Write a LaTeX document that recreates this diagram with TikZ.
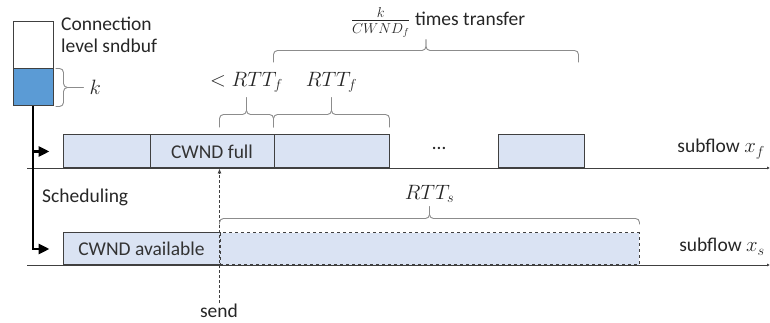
\documentclass[tikz,border=0pt]{standalone}
\usepackage{fontspec}
\setmainfont{Carlito}
\usepackage{amsmath}
\usetikzlibrary{positioning,arrows.meta,calc}
\definecolor{slot}{HTML}{DAE3F3}
\definecolor{slotline}{HTML}{404040}
\definecolor{bufblue}{HTML}{5B9BD5}
\definecolor{bracec}{HTML}{8C8C8C}
\newcommand{\ubrace}[5]{%
  \draw[brc] (#1) -- ++(0,#3) -| ($(#1)!.5!(#2)+(0,#4)$) coordinate (#5);
  \draw[brc] (#2) -- ++(0,#3) -| (#5);}

\begin{document}
\begin{tikzpicture}[x=1pt, y=1pt,
  font=\fontsize{19.5}{21.5}\selectfont,
  seg/.style={draw=slotline, fill=slot, line width=1pt, minimum height=33pt, inner sep=0pt, text=black!80},
  buf/.style={draw=slotline, line width=1pt, minimum width=40pt, inner sep=0pt},
  brc/.style={draw=bracec, line width=0.9pt, rounded corners=4pt},
  feed/.style={line width=2.8pt, -{Triangle[length=11pt,width=10pt]}},
  tline/.style={draw=slotline, line width=0.9pt, -{Latex[length=3pt,width=3pt]}},
  sendarr/.style={draw=slotline, line width=0.8pt, dash pattern=on 3pt off 2pt, -{Latex[length=5pt,width=4pt]}},
  lbl/.style={inner sep=1pt, text=black!85}]
  \useasboundingbox (0,0) rectangle (770,323);
  \node[buf, minimum height=47pt] (sndbuf) at (33,277.5) {};
  \node[buf, fill=bufblue, minimum height=37pt] (kpart) at (33,235.5) {};
  \node[lbl, anchor=north west, align=left] (conn) at (60,307) {Connection\\level sndbuf};

  \node[seg, minimum width=87pt] (slotF1) at (106.5,171.5) {};
  \node[seg, minimum width=124pt] (slotF2) at (212,171.5) {CWND full};
  \node[seg, minimum width=115pt] (slotF3) at (331.5,171.5) {};
  \node[lbl, anchor=base] (dots) at (439,173) {\ldots};
  \node[seg, minimum width=86pt] (slotF4) at (541,171.5) {};
  \node[lbl, anchor=base east] (flowf) at (766,170) {subflow $x_f$};

  \node[seg, minimum width=157pt, minimum height=32pt] (slotS1) at (141.5,74) {CWND available};
  \node[seg, dashed, minimum width=419pt, minimum height=32pt] (slotS2) at (429.5,74) {};
  \node[lbl, anchor=base east] (flows) at (766,71) {subflow $x_s$};

  \node[lbl, anchor=base west] (sched) at (41,120) {Scheduling};
  \node[lbl, anchor=base] (send) at (219,5) {send};

  \coordinate (fL) at (27,155);
  \coordinate (fR) at (770,155);
  \coordinate (sL) at (27,58);
  \coordinate (sR) at (770,58);
  \draw[tline] (fL) -- (fR);
  \draw[tline] (sL) -- (sR);

  \draw[feed] (kpart.south) |- ([xshift=-13pt]slotS1.west);
  \draw[feed] (kpart.south |- slotF1.west) -- ([xshift=-13pt]slotF1.west);
  \draw[sendarr] (slotS2.north west |- send.north) -- (slotS2.north west |- slotF2.south);

  \coordinate (kA) at ([xshift=2pt]kpart.north east);
  \coordinate (kB) at ([xshift=2pt]kpart.south east);
  \draw[brc] (kA) -- ++(8,0) |- ($(kA)!.5!(kB)+(28,0)$) coordinate (tipK);
  \draw[brc] (kB) -- ++(8,0) |- (tipK);
  \node[lbl, right=5pt of tipK] (klbl) {$k$};

  \coordinate (sendx) at (slotS2.north west |- slotF2.north);
  \coordinate (wA) at ([yshift=7pt]sendx);
  \coordinate (wB) at ([yshift=7pt]slotF3.north west);
  \coordinate (wC) at ([yshift=7pt]slotF3.north east);
  \coordinate (tA) at ([yshift=72pt]slotF3.north west);
  \coordinate (tB) at ([yshift=72pt,xshift=-6pt]slotF4.north east);
  \coordinate (sA) at ([yshift=8pt]slotS2.north west);
  \coordinate (sB) at ([yshift=8pt]slotS2.north east);
  \ubrace{wA}{wB}{13}{30}{tipLess}
  \ubrace{wB}{wC}{13}{30}{tipRtt}
  \ubrace{tA}{tB}{12}{23}{tipTimes}
  \ubrace{sA}{sB}{6}{18}{tipRtts}
  \node[lbl, above=4pt of tipLess] (lessl) {$<RTT_f$};
  \node[lbl, above=4pt of tipRtt] (rttl) {$RTT_f$};
  \node[lbl, above=1pt of tipTimes, xshift=12pt] (timesl) {\raisebox{-1pt}{$\frac{k}{CWND_f}$} times transfer};
  \node[lbl, above=3pt of tipRtts] (rttsl) {$RTT_s$};
\end{tikzpicture}
\end{document}
